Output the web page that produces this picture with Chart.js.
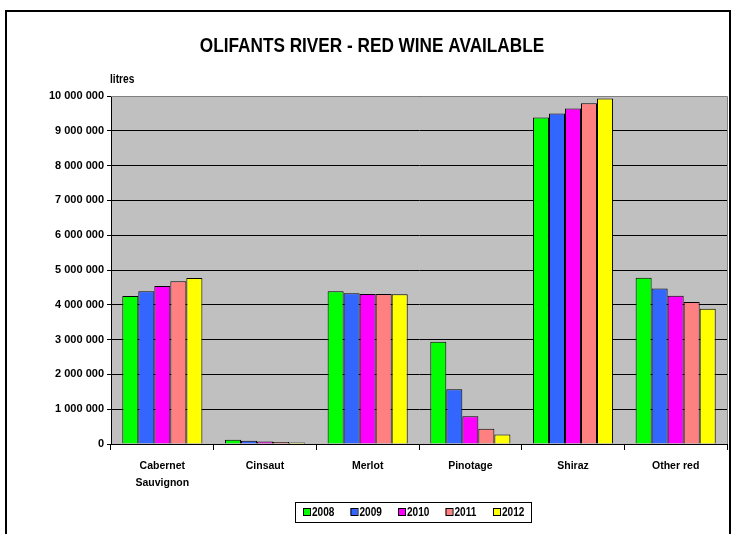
<!DOCTYPE html>
<html>
<head>
<meta charset="utf-8">
<script src="https://cdn.jsdelivr.net/npm/chart.js@4.4.1/dist/chart.umd.min.js"></script>
<style>
  html, body { margin: 0; padding: 0; background: #fff; }
</style>
</head>
<body>
<canvas id="c" width="732" height="534"></canvas>
<script>
const categories = [['Cabernet', 'Sauvignon'], 'Cinsaut', 'Merlot', 'Pinotage', 'Shiraz', 'Other red']
const years = ['2008', '2009', '2010', '2011', '2012']
const v2008 = [4250000, 120000, 4390000, 2940000, 9380000, 4780000]
const v2009 = [4390000, 90000, 4330000, 1570000, 9500000, 4470000]
const v2010 = [4540000, 70000, 4310000, 800000, 9640000, 4260000]
const v2011 = [4680000, 60000, 4310000, 440000, 9790000, 4080000]
const v2012 = [4770000, 40000, 4300000, 270000, 9930000, 3890000]
const colors = ['#00FF00', '#3366FF', '#FF00FF', '#FF8080', '#FFFF00']

const values = [v2008, v2009, v2010, v2011, v2012]
const font = '"Liberation Sans", Arial, sans-serif'

// narrow-looking text: squeeze horizontally around x
function narrowText(ctx, text, x, y, sx) {
    ctx.save()
    ctx.translate(x, y)
    ctx.scale(sx, 1)
    ctx.fillText(text, 0, 0)
    ctx.restore()
}

// background, frame, title, "litres" and the boxed legend
const decor = {
    id: 'decor',
    beforeDraw(chart) {
        const {ctx, chartArea: a} = chart
        ctx.save()
        ctx.fillStyle = '#C0C0C0'
        ctx.fillRect(a.left, a.top, a.right - a.left, a.bottom - a.top)
        ctx.restore()
    },
    afterDraw(chart) {
        const {ctx, chartArea: a} = chart
        ctx.save()
        // plot border top / right
        ctx.strokeStyle = '#808080'
        ctx.lineWidth = 1
        ctx.beginPath()
        ctx.moveTo(a.left, a.top + 0.5)
        ctx.lineTo(a.right + 0.5, a.top + 0.5)
        ctx.lineTo(a.right + 0.5, a.bottom)
        ctx.stroke()

        // outer frame
        ctx.strokeStyle = '#000'
        ctx.lineWidth = 2
        ctx.strokeRect(6, 11, 724, 600)

        ctx.fillStyle = '#000'
        ctx.textAlign = 'center'
        ctx.textBaseline = 'middle'
        ctx.font = 'bold 20px ' + font
        narrowText(ctx, 'OLIFANTS RIVER - RED WINE AVAILABLE', 372, 46, 0.86)

        ctx.textAlign = 'left'
        ctx.font = 'bold 12px ' + font
        narrowText(ctx, 'litres', 110, 80, 0.85)

        // legend
        ctx.lineWidth = 1
        ctx.strokeRect(295.5, 502.5, 236, 20)
        ctx.font = 'bold 12px ' + font
        chart.data.datasets.forEach((ds, i) => {
            const x = 303 + i * 47.5
            ctx.fillStyle = ds.backgroundColor
            ctx.fillRect(x, 508, 7, 7)
            ctx.strokeRect(x + 0.5, 508.5, 7, 7)
            ctx.fillStyle = '#000'
            narrowText(ctx, ds.label, x + 9, 512.5, 0.84)
        })
        ctx.restore()
    }
}

new Chart(document.getElementById('c'), {
    type: 'bar',
    data: {
        labels: categories,
        datasets: years.map((y, i) => ({
            label: y,
            data: values[i],
            backgroundColor: colors[i],
            borderColor: '#000',
            borderWidth: 1,
            barPercentage: 1,
            categoryPercentage: 0.78
        }))
    },
    options: {
        responsive: false,
        animation: false,
        layout: {padding: {top: 96, right: 5, bottom: 0, left: 0}},
        plugins: {
            legend: {display: false},
            title: {display: false},
            tooltip: {enabled: false}
        },
        scales: {
            x: {
                afterFit: s => { s.height = 90 },
                grid: {drawOnChartArea: false, color: '#000', tickLength: 6},
                border: {color: '#000', width: 1},
                ticks: {color: '#000', font: {family: font, size: 10.5, weight: 'bold', lineHeight: 1.6}, padding: 8}
            },
            y: {
                min: 0,
                max: 10000000,
                afterFit: s => { s.width = 111 },
                grid: {color: '#000', lineWidth: 1, tickLength: 4},
                border: {color: '#000', width: 1},
                ticks: {
                    stepSize: 1000000,
                    color: '#000',
                    padding: 3,
                    font: {family: font, size: 11, weight: 'bold'},
                    callback: v => String(v).replace(/\B(?=(\d{3})+(?!\d))/g, ' ')
                }
            }
        }
    },
    plugins: [decor]
})
</script>
</body>
</html>
